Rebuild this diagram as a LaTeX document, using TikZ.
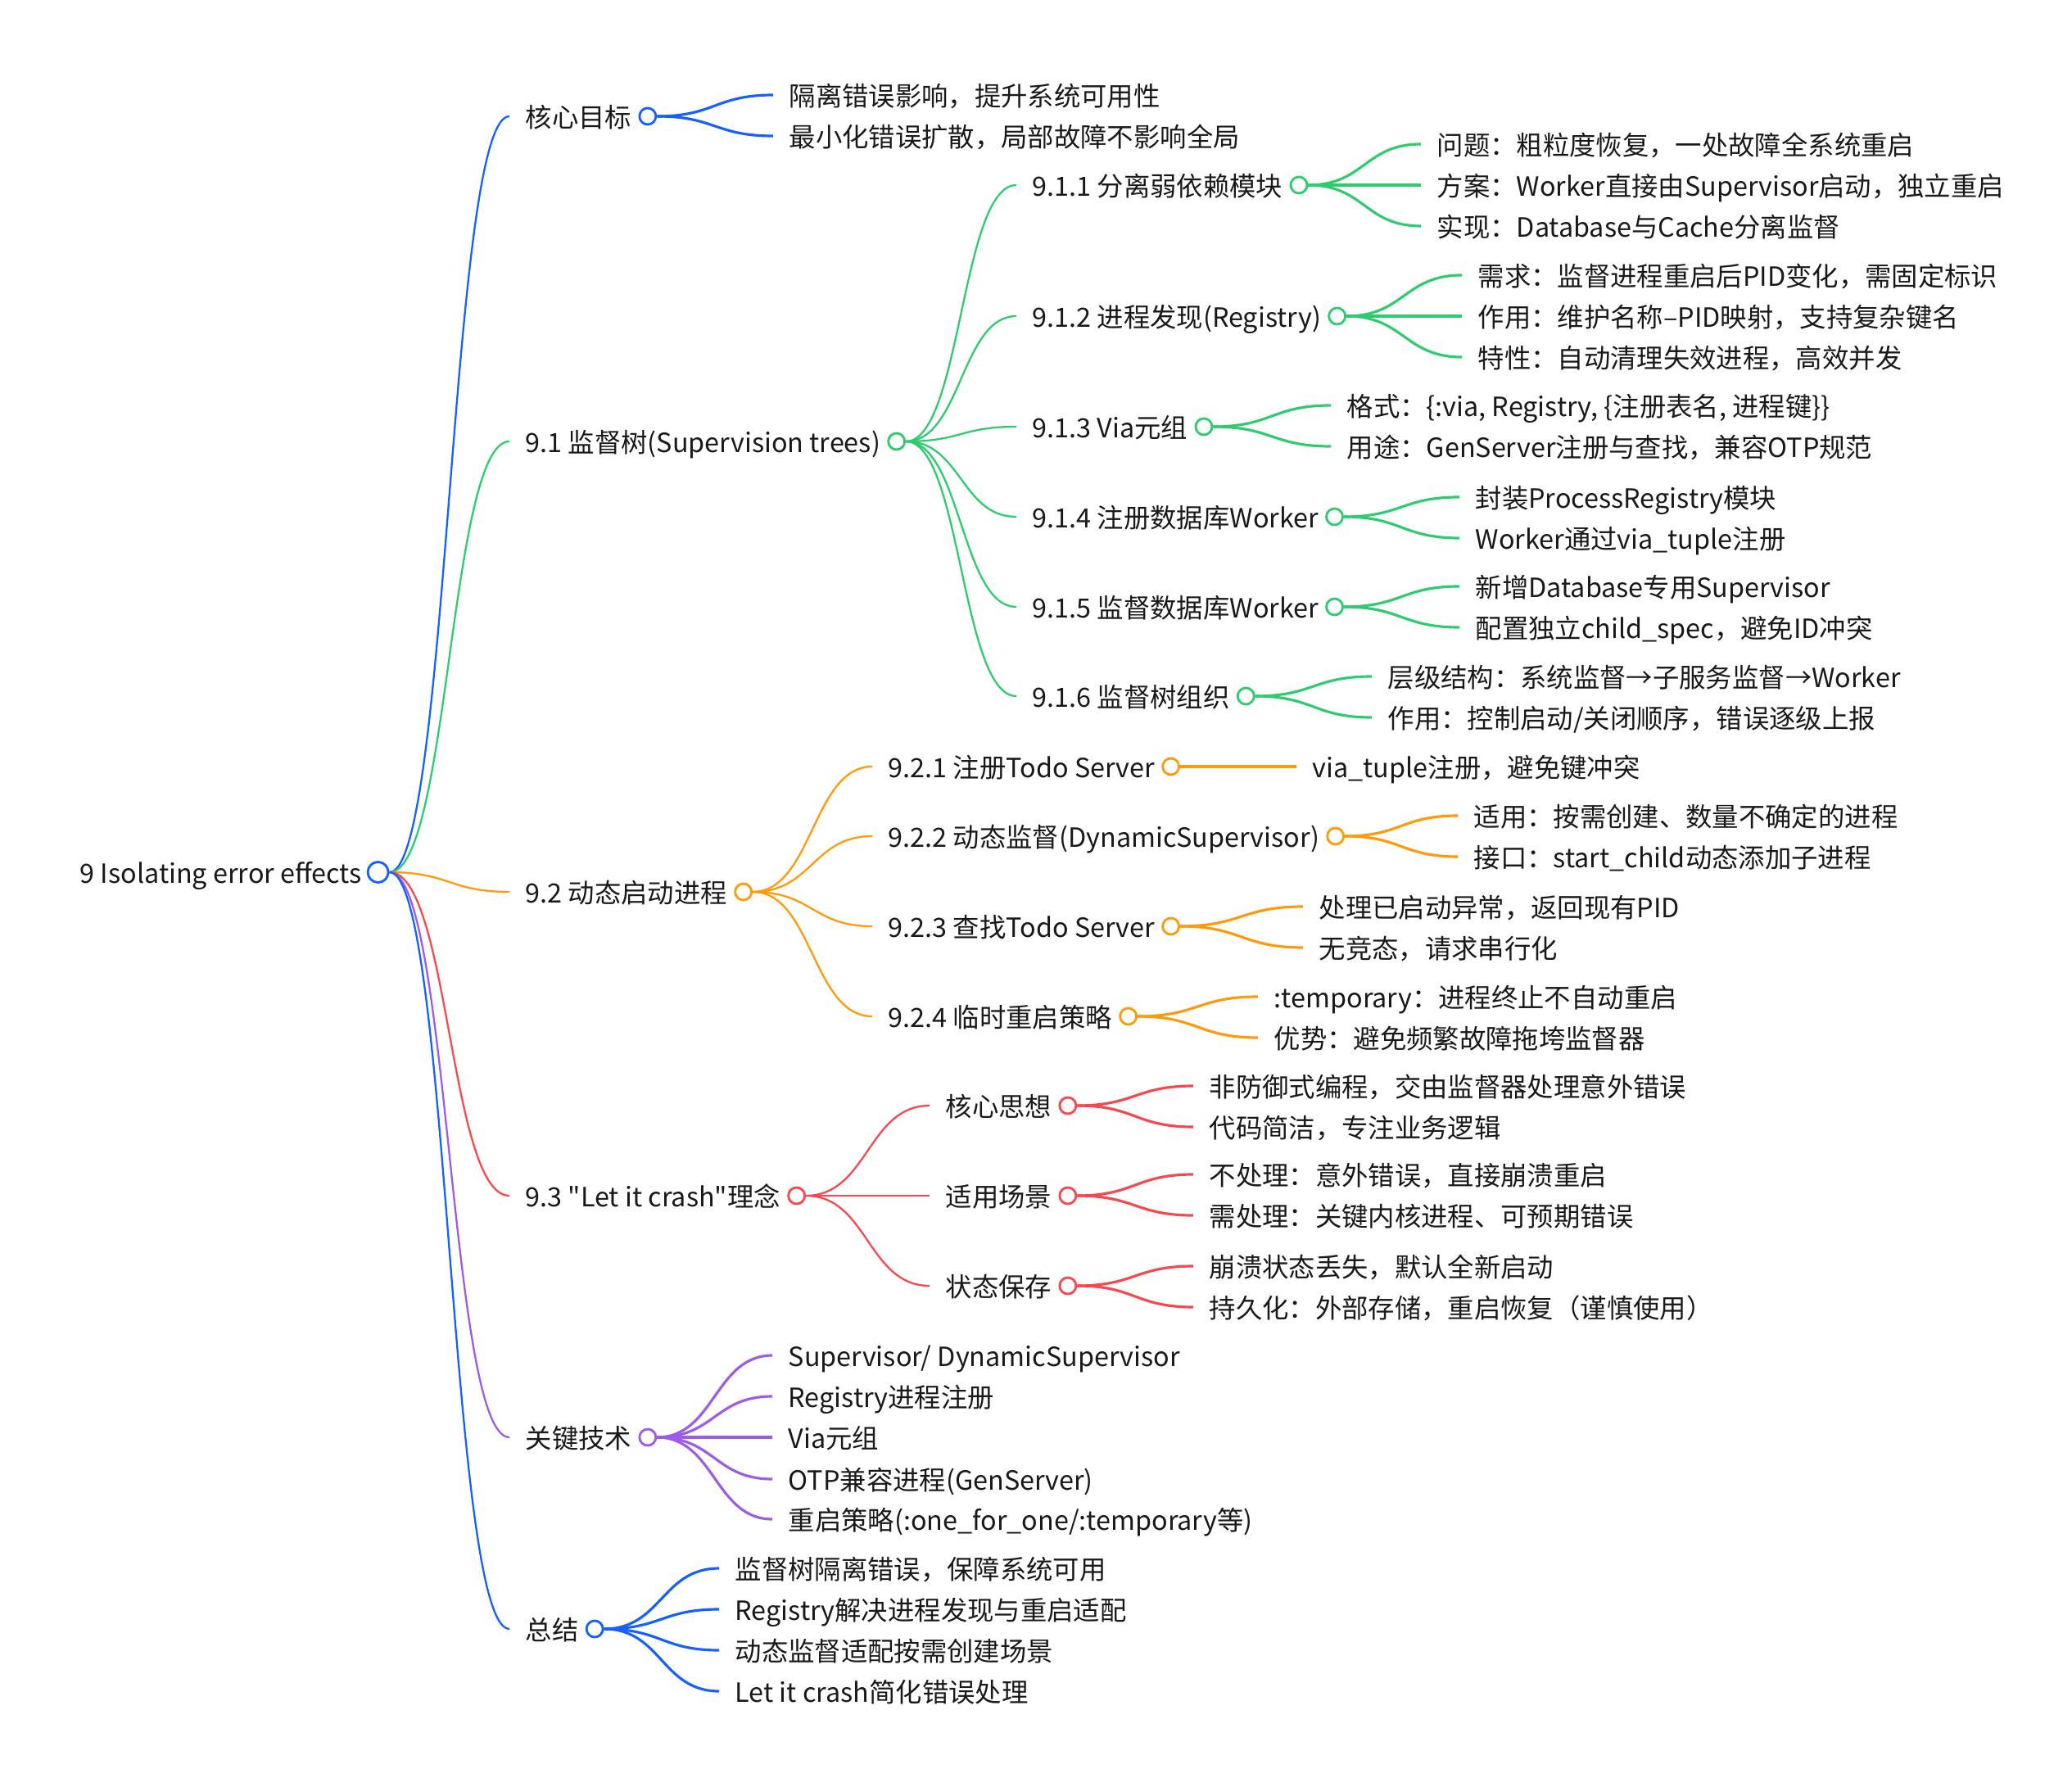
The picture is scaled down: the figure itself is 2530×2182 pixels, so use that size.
\documentclass[tikz,border=0pt]{standalone}
\usepackage{fontspec}
\setmainfont{Noto Sans CJK SC}[Ligatures=TeXOff]
\usepackage{tikz}
\usetikzlibrary{calc}

\definecolor{mblue}{HTML}{1660FF}
\definecolor{mgreen}{HTML}{2FCB6F}
\definecolor{morange}{HTML}{FF9A0A}
\definecolor{mred}{HTML}{F5484F}
\definecolor{mpurple}{HTML}{9C5CE6}

\begin{document}
\begin{tikzpicture}[x=0.01cm, y=-0.01cm,
    txt/.style={anchor=west, inner xsep=0.19cm, inner ysep=0pt, text height=0.88em, text depth=0.12em,
        text=black!90, font=\fontsize{9.2pt}{11pt}\selectfont},
    dot/.style={circle, draw, fill=white, line width=0.8pt, inner sep=0pt, minimum size=0.2cm},
    branch/.style={line width=0.65pt, to path={let \p1=(\tikztostart), \p2=(\tikztotarget), \n1={0.5*(\x2-\x1)} in
        .. controls +(\n1,0pt) and +(-\n1,0pt) .. (\tikztotarget)}},
    leaf/.style={branch, line width=0.9pt}]
    \useasboundingbox (0,0) rectangle (2530,2182);

    % root
    \node[txt] (r) at (78,1065) {9 Isolating error effects};
    \node[dot, draw=mblue, minimum size=0.25cm] (r-o) at (r.east) {};

    % first level
    \node[txt] (a) at (622,142)  {核心目标};
    \node[txt] (b) at (622,539)  {9.1 监督树(Supervision trees)};
    \node[txt] (c) at (622,1089) {9.2 动态启动进程};
    \node[txt] (d) at (622,1460) {9.3 "Let it crash"理念};
    \node[txt] (e) at (622,1755) {关键技术};
    \node[txt] (f) at (622,1989) {总结};
    \node[dot, draw=mblue]   (a-o) at (a.east) {};
    \node[dot, draw=mgreen]  (b-o) at (b.east) {};
    \node[dot, draw=morange] (c-o) at (c.east) {};
    \node[dot, draw=mred]    (d-o) at (d.east) {};
    \node[dot, draw=mpurple] (e-o) at (e.east) {};
    \node[dot, draw=mblue]   (f-o) at (f.east) {};
    \draw (r-o.east) edge[branch, mblue] (a.west)
                     edge[branch, mgreen] (b.west)
                     edge[branch, morange] (c.west)
                     edge[branch, mred] (d.west)
                     edge[branch, mpurple] (e.west)
                     edge[branch, mblue] (f.west);

    % 核心目标
    \node[txt] (a1) at (944,116) {隔离错误影响，提升系统可用性};
    \node[txt] (a2) at (944,166) {最小化错误扩散，局部故障不影响全局};
    \draw[mblue] (a-o.east) edge[leaf] (a1.west) edge[leaf] (a2.west);

    % 9.1
    \node[txt] (b1) at (1241,226) {9.1.1 分离弱依赖模块};
    \node[txt] (b2) at (1241,386) {9.1.2 进程发现(Registry)};
    \node[txt] (b3) at (1241,521) {9.1.3 Via元组};
    \node[txt] (b4) at (1241,631) {9.1.4 注册数据库Worker};
    \node[txt] (b5) at (1241,741) {9.1.5 监督数据库Worker};
    \node[txt] (b6) at (1241,850) {9.1.6 监督树组织};
    \foreach \n in {b1,b2,b3,b4,b5,b6}
        \node[dot, draw=mgreen] (\n-o) at (\n.east) {};
    \draw[mgreen] (b-o.east) edge[branch] (b1.west) edge[branch] (b2.west) edge[branch] (b3.west)
                             edge[branch] (b4.west) edge[branch] (b5.west) edge[branch] (b6.west);

    \node[txt] (b11) at (1735,176) {问题：粗粒度恢复，一处故障全系统重启};
    \node[txt] (b12) at (1735,226) {方案：Worker直接由Supervisor启动，独立重启};
    \node[txt] (b13) at (1735,276) {实现：Database与Cache分离监督};
    \node[txt] (b21) at (1785,336) {需求：监督进程重启后PID变化，需固定标识};
    \node[txt] (b22) at (1785,386) {作用：维护名称–PID映射，支持复杂键名};
    \node[txt] (b23) at (1785,436) {特性：自动清理失效进程，高效并发};
    \node[txt] (b31) at (1625,495) {格式：\{:via, Registry, \{注册表名, 进程键\}\}};
    \node[txt] (b32) at (1625,545) {用途：GenServer注册与查找，兼容OTP规范};
    \node[txt] (b41) at (1782,607) {封装ProcessRegistry模块};
    \node[txt] (b42) at (1782,657) {Worker通过via\_tuple注册};
    \node[txt] (b51) at (1782,716) {新增Database专用Supervisor};
    \node[txt] (b52) at (1782,766) {配置独立child\_spec，避免ID冲突};
    \node[txt] (b61) at (1675,826) {层级结构：系统监督→子服务监督→Worker};
    \node[txt] (b62) at (1675,876) {作用：控制启动/关闭顺序，错误逐级上报};
    \draw[mgreen] (b1-o.east) edge[leaf] (b11.west) edge[leaf] (b12.west) edge[leaf] (b13.west)
                  (b2-o.east) edge[leaf] (b21.west) edge[leaf] (b22.west) edge[leaf] (b23.west)
                  (b3-o.east) edge[leaf] (b31.west) edge[leaf] (b32.west)
                  (b4-o.east) edge[leaf] (b41.west) edge[leaf] (b42.west)
                  (b5-o.east) edge[leaf] (b51.west) edge[leaf] (b52.west)
                  (b6-o.east) edge[leaf] (b61.west) edge[leaf] (b62.west);

    % 9.2
    \node[txt] (c1) at (1065,936)  {9.2.1 注册Todo Server};
    \node[txt] (c2) at (1065,1021) {9.2.2 动态监督(DynamicSupervisor)};
    \node[txt] (c3) at (1065,1131) {9.2.3 查找Todo Server};
    \node[txt] (c4) at (1065,1241) {9.2.4 临时重启策略};
    \foreach \n in {c1,c2,c3,c4}
        \node[dot, draw=morange] (\n-o) at (\n.east) {};
    \draw[morange] (c-o.east) edge[branch] (c1.west) edge[branch] (c2.west)
                              edge[branch] (c3.west) edge[branch] (c4.west);

    \node[txt] (c11) at (1583,936)  {via\_tuple注册，避免键冲突};
    \node[txt] (c21) at (1780,996)  {适用：按需创建、数量不确定的进程};
    \node[txt] (c22) at (1780,1046) {接口：start\_child动态添加子进程};
    \node[txt] (c31) at (1591,1107) {处理已启动异常，返回现有PID};
    \node[txt] (c32) at (1591,1157) {无竞态，请求串行化};
    \node[txt] (c41) at (1536,1217) {:temporary：进程终止不自动重启};
    \node[txt] (c42) at (1536,1267) {优势：避免频繁故障拖垮监督器};
    \draw[morange] (c1-o.east) edge[leaf] (c11.west)
                   (c2-o.east) edge[leaf] (c21.west) edge[leaf] (c22.west)
                   (c3-o.east) edge[leaf] (c31.west) edge[leaf] (c32.west)
                   (c4-o.east) edge[leaf] (c41.west) edge[leaf] (c42.west);

    % 9.3
    \node[txt] (d1) at (1135,1350) {核心思想};
    \node[txt] (d2) at (1135,1460) {适用场景};
    \node[txt] (d3) at (1135,1570) {状态保存};
    \foreach \n in {d1,d2,d3}
        \node[dot, draw=mred] (\n-o) at (\n.east) {};
    \draw[mred] (d-o.east) edge[branch] (d1.west) edge[branch] (d2.west) edge[branch] (d3.west);

    \node[txt] (d11) at (1457,1326) {非防御式编程，交由监督器处理意外错误};
    \node[txt] (d12) at (1457,1376) {代码简洁，专注业务逻辑};
    \node[txt] (d21) at (1457,1434) {不处理：意外错误，直接崩溃重启};
    \node[txt] (d22) at (1457,1484) {需处理：关键内核进程、可预期错误};
    \node[txt] (d31) at (1457,1546) {崩溃状态丢失，默认全新启动};
    \node[txt] (d32) at (1457,1596) {持久化：外部存储，重启恢复（谨慎使用）};
    \draw[mred] (d1-o.east) edge[leaf] (d11.west) edge[leaf] (d12.west)
                (d2-o.east) edge[leaf] (d21.west) edge[leaf] (d22.west)
                (d3-o.east) edge[leaf] (d31.west) edge[leaf] (d32.west);

    % 关键技术
    \node[txt] (e1) at (943,1655) {Supervisor/ DynamicSupervisor};
    \node[txt] (e2) at (943,1705) {Registry进程注册};
    \node[txt] (e3) at (943,1755) {Via元组};
    \node[txt] (e4) at (943,1806) {OTP兼容进程(GenServer)};
    \node[txt] (e5) at (943,1855) {重启策略(:one\_for\_one/:temporary等)};
    \draw[mpurple] (e-o.east) edge[leaf] (e1.west) edge[leaf] (e2.west) edge[leaf] (e3.west)
                              edge[leaf] (e4.west) edge[leaf] (e5.west);

    % 总结
    \node[txt] (f1) at (878,1915) {监督树隔离错误，保障系统可用};
    \node[txt] (f2) at (878,1965) {Registry解决进程发现与重启适配};
    \node[txt] (f3) at (878,2015) {动态监督适配按需创建场景};
    \node[txt] (f4) at (878,2065) {Let it crash简化错误处理};
    \draw[mblue] (f-o.east) edge[leaf] (f1.west) edge[leaf] (f2.west) edge[leaf] (f3.west) edge[leaf] (f4.west);
\end{tikzpicture}
\end{document}
